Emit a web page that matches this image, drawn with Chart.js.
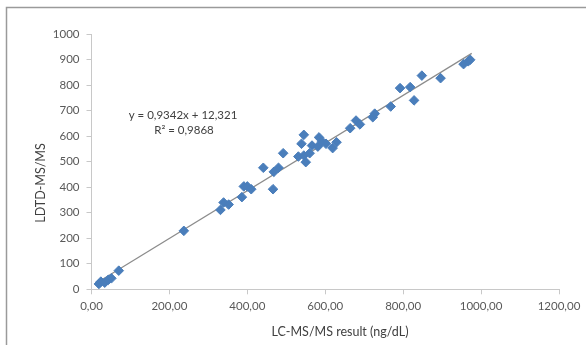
<!DOCTYPE html>
<html>
<head>
<meta charset="utf-8">
<script src="https://cdn.jsdelivr.net/npm/chart.js@4.4.1/dist/chart.umd.min.js"></script>
<style>
    html, body { margin: 0; padding: 0; background: #fff; }
    #wrap { position: relative; width: 586px; height: 345px; }
</style>
</head>
<body>
<div id="wrap"><canvas id="scatter-chart" width="586" height="345"></canvas></div>
<script>
// LC-MS/MS result (x) vs LDTD-MS/MS (y)
const lcmsValues = [19, 24, 34, 43, 51, 70, 237, 331, 339, 352, 386, 391, 400, 410, 441, 466, 468, 480, 492,
    531, 539, 545, 545, 550, 560, 566, 581, 584, 592, 602, 619, 629, 664, 679, 689, 722, 727, 768,
    792, 818, 828, 848, 896, 955, 967, 972];
const ldtdValues = [21, 30, 26, 37, 43, 73, 229, 311, 340, 332, 361, 403, 403, 392, 476, 392, 460, 476, 533,
    520, 570, 605, 524, 498, 533, 563, 559, 595, 579, 570, 553, 576, 631, 661, 646, 674, 688, 716,
    788, 792, 740, 837, 827, 882, 893, 899];

// linear trend line as printed on the chart
const trendSlope = 0.9342;
const trendIntercept = 12.321;
const trendRange = [14, 976];

const xTicks = [0, 200, 400, 600, 800, 1000, 1200];
const yTicks = [0, 100, 200, 300, 400, 500, 600, 700, 800, 900, 1000];

const equationText = 'y = 0,9342x + 12,321';
const rSquaredText = 'R\u00B2 = 0,9868';
const xTitle = 'LC-MS/MS result (ng/dL)';
const yTitle = 'LDTD-MS/MS';

const fontFamily = "Lato, 'Open Sans', sans-serif";

let scatterPoints = lcmsValues.map((x, i) => ({x: x, y: ldtdValues[i]}));
let trendPoints = trendRange.map(x => ({x: x, y: trendSlope * x + trendIntercept}));

// frame, axis titles and equation text
const decorPlugin = {
    id: 'decor',
    beforeDraw(chart) {
        const ctx = chart.ctx;
        ctx.save();
        ctx.strokeStyle = '#9a9a9a';
        ctx.lineWidth = 1.5;
        ctx.beginPath();
        ctx.moveTo(6.5, 400);
        ctx.lineTo(6.5, 7.5);
        ctx.lineTo(600, 7.5);
        ctx.stroke();
        ctx.restore();
    },
    afterDraw(chart) {
        const ctx = chart.ctx;
        ctx.save();
        ctx.fillStyle = '#404040';
        ctx.textAlign = 'center';
        ctx.textBaseline = 'middle';
        ctx.font = '11.5px ' + fontFamily;
        ctx.fillText(equationText, 183, 115);
        ctx.fillText(rSquaredText, 184, 130);

        ctx.font = '12.5px ' + fontFamily;
        ctx.fillText(xTitle, 340, 332);

        ctx.translate(41, 183);
        ctx.rotate(-Math.PI / 2);
        ctx.fillText(yTitle, 0, 0);
        ctx.restore();
    }
};

let config = {
    type: 'scatter',
    data: {
        datasets: [
            {
                label: 'Trend',
                type: 'line',
                data: trendPoints,
                borderColor: '#8c8c8c',
                borderWidth: 1.2,
                pointRadius: 0,
                fill: false,
                order: 2
            },
            {
                label: 'LDTD-MS/MS',
                data: scatterPoints,
                pointStyle: 'rectRot',
                pointRadius: 4.8,
                backgroundColor: '#4a7ebb',
                borderColor: '#4a7ebb',
                borderWidth: 1,
                order: 1
            }
        ]
    },
    options: {
        responsive: false,
        animation: false,
        events: [],
        layout: {
            padding: {top: 34, right: 27, left: 0, bottom: 0}
        },
        plugins: {
            legend: {display: false},
            tooltip: {enabled: false}
        },
        scales: {
            x: {
                type: 'linear',
                min: 0,
                max: 1200,
                afterBuildTicks: function (scale) {
                    scale.ticks = xTicks.map(v => ({value: v}));
                },
                afterFit: function (scale) {
                    scale.height = 55.7;
                },
                grid: {
                    drawOnChartArea: false,
                    drawTicks: true,
                    tickLength: 5,
                    color: '#c8c8c8'
                },
                border: {color: '#c8c8c8'},
                ticks: {
                    padding: 5,
                    maxRotation: 0,
                    color: '#595959',
                    font: {family: fontFamily, size: 11.5},
                    callback: function (value) {
                        return value.toFixed(2).replace('.', ',');
                    }
                }
            },
            y: {
                type: 'linear',
                min: 0,
                max: 1000,
                afterBuildTicks: function (scale) {
                    scale.ticks = yTicks.map(v => ({value: v}));
                },
                afterFit: function (scale) {
                    scale.width = 91.5;
                },
                grid: {
                    drawOnChartArea: false,
                    drawTicks: true,
                    tickLength: 5,
                    color: '#c8c8c8'
                },
                border: {color: '#c8c8c8'},
                ticks: {
                    padding: 7,
                    color: '#595959',
                    font: {family: fontFamily, size: 11.5},
                    callback: function (value) {
                        return String(value);
                    }
                }
            }
        }
    },
    plugins: [decorPlugin]
};

let chart = new Chart(document.getElementById('scatter-chart'), config);
</script>
</body>
</html>
